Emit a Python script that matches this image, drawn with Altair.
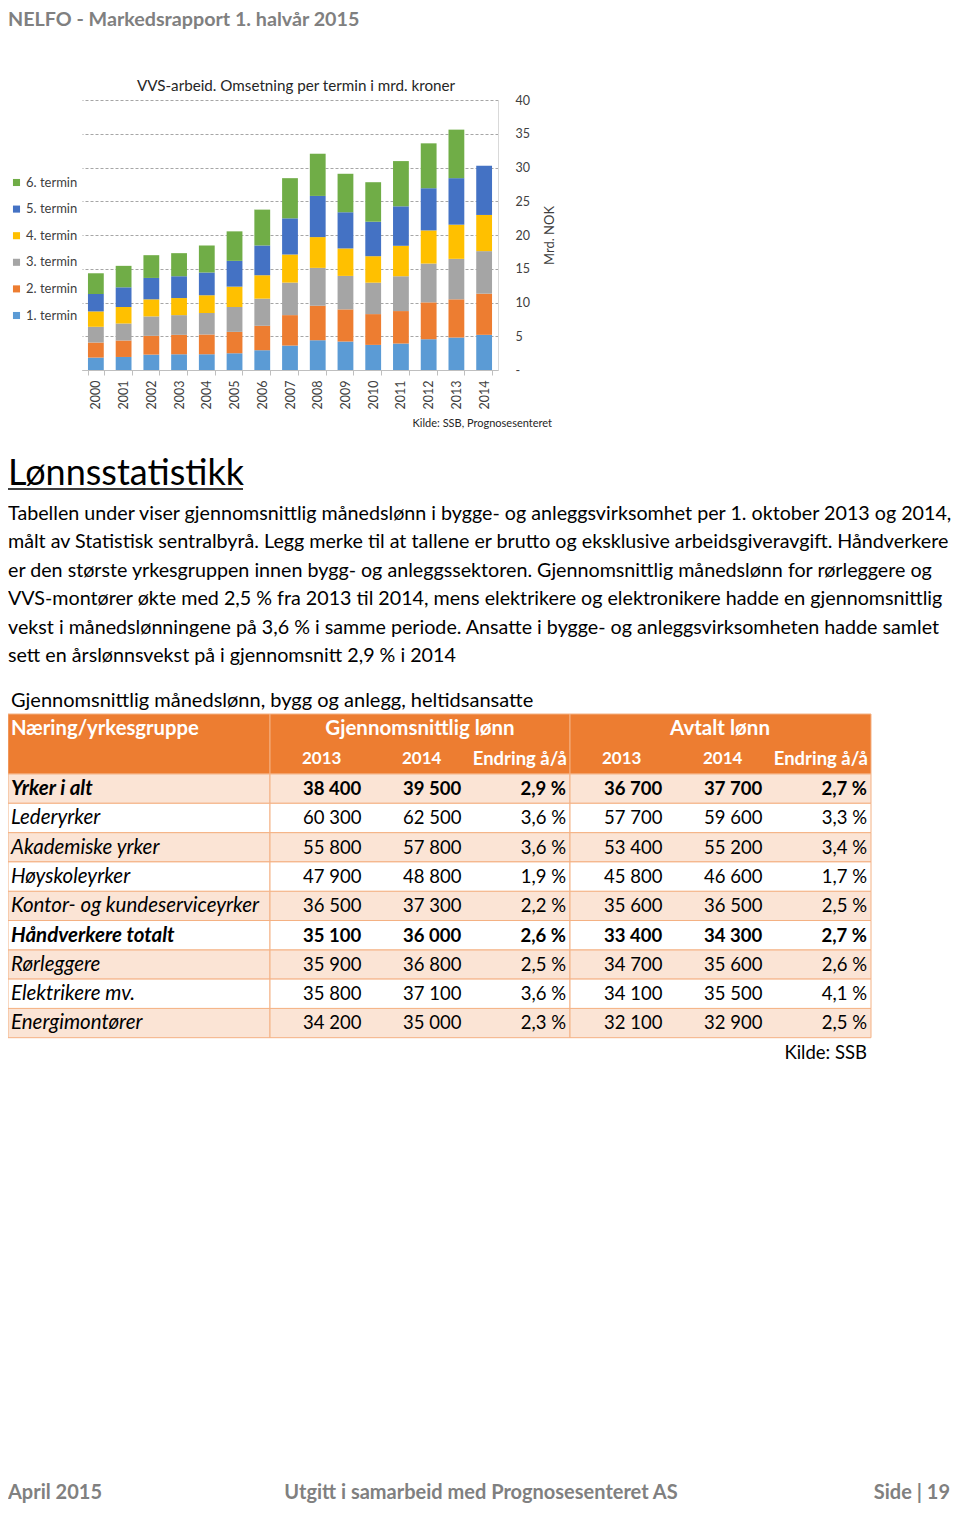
import altair as alt
import pandas as pd

# ---------------- data ----------------
years = [str(y) for y in range(2000, 2015)]
terms = ["1. termin", "2. termin", "3. termin", "4. termin", "5. termin", "6. termin"]
t1 = [1.84, 1.93, 2.28, 2.33, 2.33, 2.48, 2.93, 3.62, 4.41, 4.22, 3.72, 3.92, 4.56, 4.81, 5.21]
t2 = [2.23, 2.44, 2.78, 2.88, 2.93, 3.17, 3.62, 4.51, 5.11, 4.76, 4.56, 4.81, 5.46, 5.66, 6.10]
t3 = [2.33, 2.52, 2.88, 2.92, 3.17, 3.68, 4.02, 4.82, 5.61, 4.96, 4.66, 5.16, 5.75, 6.00, 6.30]
t4 = [2.28, 2.44, 2.53, 2.53, 2.63, 3.02, 3.47, 4.16, 4.56, 4.07, 3.92, 4.51, 4.91, 5.06, 5.36]
t5 = [2.58, 2.92, 3.17, 3.23, 3.37, 3.82, 4.41, 5.36, 6.10, 5.36, 5.11, 5.85, 6.25, 6.89, 7.29]
t6 = [3.07, 3.18, 3.37, 3.42, 4.02, 4.37, 5.31, 5.95, 6.25, 5.70, 5.85, 6.70, 6.65, 7.19, None]
term_colors = ["#5B9BD5", "#ED7D31", "#A5A5A5", "#FFC000", "#4472C4", "#70AD47"]

body_lines = [
    "Tabellen under viser gjennomsnittlig månedslønn i bygge- og anleggsvirksomhet per 1. oktober 2013 og 2014,",
    "målt av Statistisk sentralbyrå. Legg merke til at tallene er brutto og eksklusive arbeidsgiveravgift. Håndverkere",
    "er den største yrkesgruppen innen bygg- og anleggssektoren. Gjennomsnittlig månedslønn for rørleggere og",
    "VVS-montører økte med 2,5 % fra 2013 til 2014, mens elektrikere og elektronikere hadde en gjennomsnittlig",
    "vekst i månedslønningene på 3,6 % i samme periode. Ansatte i bygge- og anleggsvirksomheten hadde samlet",
    "sett en årslønnsvekst på i gjennomsnitt 2,9 % i 2014",
]

groups = ["Yrker i alt", "Lederyrker", "Akademiske yrker", "Høyskoleyrker",
          "Kontor- og kundeserviceyrker", "Håndverkere totalt", "Rørleggere",
          "Elektrikere mv.", "Energimontører"]
bold_rows = ["Yrker i alt", "Håndverkere totalt"]
gj_2013 = ["38 400", "60 300", "55 800", "47 900", "36 500", "35 100", "35 900", "35 800", "34 200"]
gj_2014 = ["39 500", "62 500", "57 800", "48 800", "37 300", "36 000", "36 800", "37 100", "35 000"]
gj_endr = ["2,9 %", "3,6 %", "3,6 %", "1,9 %", "2,2 %", "2,6 %", "2,5 %", "3,6 %", "2,3 %"]
av_2013 = ["36 700", "57 700", "53 400", "45 800", "35 600", "33 400", "34 700", "34 100", "32 100"]
av_2014 = ["37 700", "59 600", "55 200", "46 600", "36 500", "34 300", "35 600", "35 500", "32 900"]
av_endr = ["2,7 %", "3,3 %", "3,4 %", "1,7 %", "2,5 %", "2,7 %", "2,6 %", "4,1 %", "2,5 %"]

# ---------------- layout helpers ----------------
PX0, PY0 = 82, 100      # page position of the bar plot origin
PW, PH = 416, 270
FONT = "Lato"
XL = 8                  # leftmost visible page x
TOTAL_W, TOTAL_H = 944, 1497


def P(x, y):
    return x - PX0, y - PY0


def text_layer(records, **kw):
    df = pd.DataFrame(records)
    return alt.Chart(df).mark_text(font=FONT, **kw).encode(
        x=alt.X("x:Q", scale=None, axis=None),
        y=alt.Y("y:Q", scale=None, axis=None),
        text="t:N",
    )


def T(x, y, t):
    rx, ry = P(x, y)
    return {"x": rx, "y": ry, "t": t}


def rect_layer(records, **kw):
    df = pd.DataFrame(records)
    return alt.Chart(df).mark_rect(**kw).encode(
        x=alt.X("x:Q", scale=None, axis=None), x2="x2:Q",
        y=alt.Y("y:Q", scale=None, axis=None), y2="y2:Q",
    )


def R(x1, y1, x2, y2):
    a, b = P(x1, y1)
    c, d = P(x2, y2)
    return {"x": a, "y": b, "x2": c, "y2": d}


# ---------------- bar chart ----------------
series = [t1, t2, t3, t4, t5, t6]
rows = []
for i, yr in enumerate(years):
    for k, (name, vals) in enumerate(zip(terms, series)):
        if vals[i] is None:
            continue
        rows.append({"year": yr, "termin": name, "value": vals[i], "ord": k})
bars_df = pd.DataFrame(rows)

legend_order = terms[::-1]
legend_colors = term_colors[::-1]

bars = alt.Chart(bars_df).mark_bar().encode(
    x=alt.X("year:N", sort=years,
            scale=alt.Scale(paddingInner=0.43, paddingOuter=0.215),
            axis=alt.Axis(title=None, labelAngle=270, labelFont=FONT, labelFontSize=12.5,
                          labelColor="#404040", labelPadding=5, domainColor="#BFBFBF",
                          tickColor="#BFBFBF", tickSize=5, tickBand="extent", grid=False)),
    y=alt.Y("value:Q", stack="zero",
            scale=alt.Scale(domain=[0, 40], nice=False),
            axis=alt.Axis(orient="right", values=list(range(0, 41, 5)), title="Mrd. NOK",
                          titleAngle=270, titleFont=FONT, titleFontSize=13,
                          titleFontWeight="normal", titleColor="#404040", titlePadding=27,
                          labelFont=FONT, labelFontSize=12.5, labelColor="#404040",
                          labelPadding=17, ticks=False, domainColor="#D9D9D9",
                          grid=True, gridDash=[3, 2], gridColor="#A6A6A6",
                          labelExpr="datum.value == 0 ? '-' : datum.label")),
    color=alt.Color("termin:N",
                    scale=alt.Scale(domain=legend_order, range=legend_colors),
                    legend=alt.Legend(orient="none", legendX=-72, legendY=76, title=None,
                                      symbolType="square", symbolSize=50, symbolStrokeWidth=0,
                                      labelFont=FONT, labelFontSize=13, labelColor="#404040",
                                      rowPadding=12.6, labelOffset=3)),
    order=alt.Order("ord:Q", sort="ascending"),
)

layers = [bars]

# chart title & source
layers.append(text_layer([T(296, 86, "VVS-arbeid. Omsetning per termin i mrd. kroner")],
                         fontSize=15.2, color="#262626", align="center", baseline="middle"))
layers.append(text_layer([T(552, 424, "Kilde: SSB, Prognosesenteret")],
                         fontSize=11, color="#262626", align="right", baseline="middle"))

# page header & footer
layers.append(text_layer([T(XL, 20, "NELFO - Markedsrapport 1. halvår 2015")],
                         fontSize=19.7, fontWeight="bold", color="#808080", align="left",
                         baseline="middle"))
layers.append(text_layer([T(XL, 1493, "April 2015")],
                         fontSize=20, fontWeight="bold", color="#808080", align="left",
                         baseline="middle"))
layers.append(text_layer([T(481, 1493, "Utgitt i samarbeid med Prognosesenteret AS")],
                         fontSize=20, fontWeight="bold", color="#808080", align="center",
                         baseline="middle"))
layers.append(text_layer([T(950, 1493, "Side | 19")],
                         fontSize=20, fontWeight="bold", color="#808080", align="right",
                         baseline="middle"))

# heading
layers.append(text_layer([T(XL, 474, "Lønnsstatistikk")],
                         fontSize=36, color="#000000", align="left", baseline="middle"))
ul = pd.DataFrame([R(XL, 489, XL + 235, 489)])
layers.append(alt.Chart(ul).mark_rule(color="#000000", strokeWidth=1.5).encode(
    x=alt.X("x:Q", scale=None, axis=None), x2="x2:Q",
    y=alt.Y("y:Q", scale=None, axis=None)))

# body text
layers.append(text_layer([T(XL, 514 + 28.4 * i, s) for i, s in enumerate(body_lines)],
                         fontSize=19.7, color="#000000", align="left", baseline="middle"))

# table
TOP = 714
H1 = 774
RH = 29.3
XA, XB, XC, XD = XL, 270, 570, 871
layers.append(rect_layer([R(XA, TOP, XB, H1), R(XB, TOP, XC, H1), R(XC, TOP, XD, H1)],
                         fill="#ED7D31", stroke="#F4B183", strokeWidth=1))
pink, white = [], []
for i in range(len(groups)):
    y1 = H1 + RH * i
    y2 = y1 + RH
    cells = [R(XA, y1, XB, y2), R(XB, y1, XC, y2), R(XC, y1, XD, y2)]
    (pink if i % 2 == 0 else white).extend(cells)
layers.append(rect_layer(pink, fill="#FBE4D5", stroke="#F4B183", strokeWidth=1))
layers.append(rect_layer(white, fill="#FFFFFF", stroke="#F4B183", strokeWidth=1))

layers.append(text_layer([T(XL + 3, 701, "Gjennomsnittlig månedslønn, bygg og anlegg, heltidsansatte")],
                         fontSize=20, color="#000000", align="left", baseline="middle"))
# header texts
layers.append(text_layer([T(XL + 3, 729, "Næring/yrkesgruppe")],
                         fontSize=20.3, fontWeight="bold", color="#FFFFFF", align="left",
                         baseline="middle"))
layers.append(text_layer([T(302, 759, "2013"), T(402, 759, "2014"),
                          T(602, 759, "2013"), T(703, 759, "2014")],
                         fontSize=17, fontWeight="bold", color="#FFFFFF", align="left",
                         baseline="middle"))
layers.append(text_layer([T(420, 729, "Gjennomsnittlig lønn"), T(720, 729, "Avtalt lønn")],
                         fontSize=20.5, fontWeight="bold", color="#FFFFFF", align="center",
                         baseline="middle"))
layers.append(text_layer([T(567, 759, "Endring å/å"), T(868, 759, "Endring å/å")],
                         fontSize=18.5, fontWeight="bold", color="#FFFFFF", align="right",
                         baseline="middle"))

lab_b, lab_n, num_l_b, num_l_n, num_r_b, num_r_n = [], [], [], [], [], []
for i, g in enumerate(groups):
    yc = H1 + RH * i + 15
    b = g in bold_rows
    (lab_b if b else lab_n).append(T(XL + 3, yc, g))
    nl = num_l_b if b else num_l_n
    nr = num_r_b if b else num_r_n
    nl += [T(303, yc, gj_2013[i]), T(403, yc, gj_2014[i]),
           T(604, yc, av_2013[i]), T(704, yc, av_2014[i])]
    nr += [T(566, yc, gj_endr[i]), T(867, yc, av_endr[i])]

layers.append(text_layer(lab_b, fontSize=20.5, fontWeight="bold", fontStyle="italic",
                         color="#000000", align="left", baseline="middle"))
layers.append(text_layer(lab_n, fontSize=20.5, fontStyle="italic",
                         color="#000000", align="left", baseline="middle"))
layers.append(text_layer(num_l_b, fontSize=18.5, fontWeight="bold",
                         color="#000000", align="left", baseline="middle"))
layers.append(text_layer(num_l_n, fontSize=18.5,
                         color="#000000", align="left", baseline="middle"))
layers.append(text_layer(num_r_b, fontSize=18.5, fontWeight="bold",
                         color="#000000", align="right", baseline="middle"))
layers.append(text_layer(num_r_n, fontSize=18.5,
                         color="#000000", align="right", baseline="middle"))
layers.append(text_layer([T(867, 1053, "Kilde: SSB")], fontSize=18.5,
                         color="#000000", align="right", baseline="middle"))

chart = alt.layer(*layers).resolve_scale(
    x="independent", y="independent", color="independent"
).properties(
    width=PW, height=PH,
    background="#FFFFFF",
    autosize=alt.AutoSizeParams(type="none"),
    padding={"left": 74, "top": 92, "right": TOTAL_W - 74 - PW, "bottom": TOTAL_H - 92 - PH},
).configure_view(stroke=None, strokeWidth=0)

chart.save("out.html", embed_options={"renderer": "svg", "actions": False})
